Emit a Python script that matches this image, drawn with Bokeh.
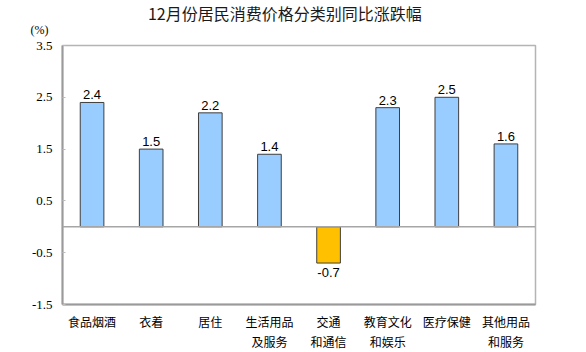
from bokeh.plotting import figure
from bokeh.models import ColumnDataSource, FactorRange, Range1d, FixedTicker, Span, Label, LabelSet
from bokeh.core.properties import value
from bokeh.embed import file_html
from bokeh.resources import INLINE

categories = ["食品烟酒", "衣着", "居住", "生活用品\n及服务", "交通\n和通信",
              "教育文化\n和娱乐", "医疗保健", "其他用品\n和服务"]
values = [2.4, 1.5, 2.2, 1.4, -0.7, 2.3, 2.5, 1.6]
y_ticks = [-1.5, -0.5, 0.5, 1.5, 2.5, 3.5]
y_tick_labels = ["-1.5", "-0.5", "0.5", "1.5", "2.5", "3.5"]
title_text = "12月份居民消费价格分类别同比涨跌幅"
unit_text = "(%)"

colors = ["#FFC000" if v < 0 else "#99CCFF" for v in values]
labels = [f"{v:.1f}" for v in values]
pos_lab = [l if v >= 0 else "" for v, l in zip(values, labels)]
neg_lab = [l if v < 0 else "" for v, l in zip(values, labels)]

src = ColumnDataSource(dict(cat=categories, val=values, color=colors,
                            pos=pos_lab, neg=neg_lab))

p = figure(width=586, height=352, x_range=FactorRange(factors=categories, range_padding=0),
           y_range=Range1d(-1.5, 3.5), output_backend="svg", toolbar_location=None,
           min_border_left=62, min_border_right=51, min_border_top=45, min_border_bottom=48)
p.background_fill_color = "white"
p.border_fill_color = "white"
p.outline_line_color = "#B4B4B4"
p.outline_line_width = 1.5
p.xgrid.grid_line_color = None
p.ygrid.grid_line_color = None

p.vbar(x="cat", top="val", bottom=0, width=0.4, fill_color="color",
       line_color="#3F3F3F", line_width=1, source=src)

p.add_layout(Span(location=0, dimension="width", line_color="#A6A6A6", line_width=1.5))

p.add_layout(LabelSet(x="cat", y="val", text="pos", source=src, text_align="center",
                      text_baseline="alphabetic", y_offset=3, text_font_size=value("13px"),
                      text_font=value("Liberation Sans"), text_color="black"))
p.add_layout(LabelSet(x="cat", y="val", text="neg", source=src, text_align="center",
                      text_baseline="top", y_offset=-5, text_font_size=value("13px"),
                      text_font=value("Liberation Sans"), text_color="black"))

# y axis
p.yaxis.ticker = FixedTicker(ticks=y_ticks)
p.yaxis.major_label_overrides = {t: s for t, s in zip(y_ticks, y_tick_labels)}
p.yaxis.major_label_text_font = "Liberation Serif"
p.yaxis.major_label_text_font_size = "13px"
p.yaxis.major_label_text_color = "black"
p.yaxis.axis_line_color = "#9A9A9A"
p.yaxis.axis_line_width = 2
p.yaxis.major_tick_in = 3
p.yaxis.major_tick_out = 0
p.yaxis.major_tick_line_color = "#BBBBBB"
p.yaxis.minor_tick_line_color = None
p.yaxis.major_label_standoff = 10

# x axis
p.xaxis.major_label_text_font = "Noto Sans CJK SC"
p.xaxis.major_label_text_font_size = "12px"
p.xaxis.major_label_text_color = "black"
p.xaxis.axis_line_color = "#9A9A9A"
p.xaxis.axis_line_width = 2
p.xaxis.major_tick_line_color = None
p.xaxis.major_tick_in = 0
p.xaxis.major_tick_out = 0
p.xaxis.minor_tick_line_color = None
p.xaxis.major_label_standoff = 8
p.xaxis.major_label_orientation = "horizontal"

# title and unit placed in the top side panel (not clipped to the frame)
p.add_layout(Label(x=-0.39, y=3.79, text=unit_text, text_align="center",
                   text_baseline="middle", text_font="Liberation Serif",
                   text_font_size="12px", text_color="black"), "above")
p.add_layout(Label(x=3.76, y=4.12, text=title_text, text_align="center",
                   text_baseline="middle", text_font="Noto Sans CJK SC",
                   text_font_size="16px", text_color="#1A1A1A"), "above")

open("out.html", "w").write(file_html(p, INLINE))
